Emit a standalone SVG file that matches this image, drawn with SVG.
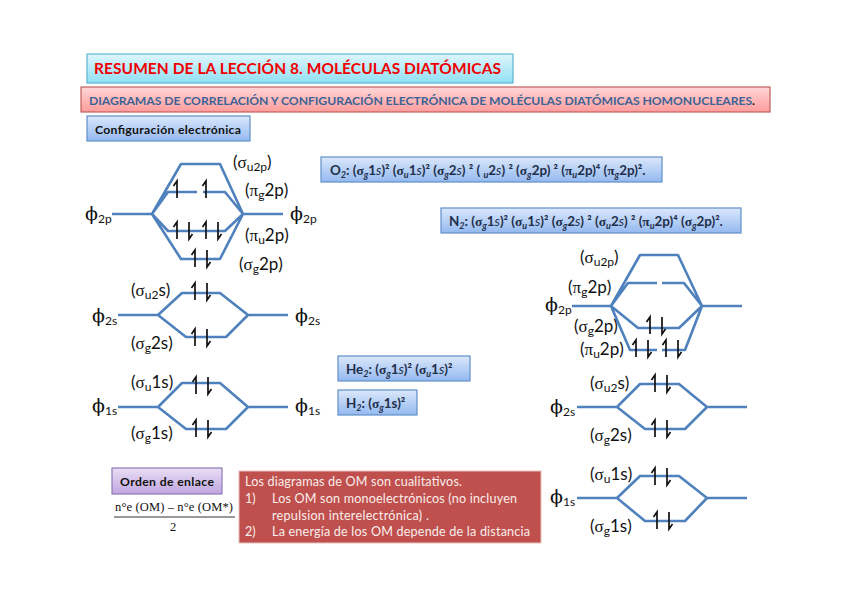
<svg xmlns="http://www.w3.org/2000/svg" width="848" height="599" viewBox="0 0 848 599">
<style>
text{font-family:Lato,"Open Sans","Liberation Sans",sans-serif;white-space:pre}
.box{stroke-width:1.2}
.mo{fill:none;stroke:#4f81bd;stroke-width:2.6;stroke-linejoin:round;stroke-linecap:butt}
.h{fill:none;stroke:#111;stroke-width:1.7}
.lab{font-size:17px;fill:#111}
.lab .g,.phi .g,.cfg .g{font-family:"Liberation Serif","DejaVu Serif",serif}
.sub{font-size:12px}
.phi{font-size:19px;fill:#111;font-family:"DejaVu Serif",serif}
.phi .sub{font-size:12px;font-family:Lato,sans-serif}
.cfg{font-size:13.4px;font-weight:700;fill:#1f2f4a}
.cfg .sub{font-size:9px;font-style:italic}
.cfg .i{font-style:italic;font-weight:400}
.bt{font-size:12.6px;fill:#f8eeec}
.f{font-family:"Liberation Serif",serif;fill:#111}
</style>
<defs>
<linearGradient id="gAqua" x1="0" y1="0" x2="0" y2="1"><stop offset="0" stop-color="#dff6fc"/><stop offset="1" stop-color="#8fe0f4"/></linearGradient>
<linearGradient id="gPink" x1="0" y1="0" x2="0" y2="1"><stop offset="0" stop-color="#ffd6d6"/><stop offset="1" stop-color="#ff9c9c"/></linearGradient>
<linearGradient id="gBlue" x1="0" y1="0" x2="0" y2="1"><stop offset="0" stop-color="#dbe8fb"/><stop offset="1" stop-color="#94b9f0"/></linearGradient>
<linearGradient id="gPurp" x1="0" y1="0" x2="0" y2="1"><stop offset="0" stop-color="#e9def5"/><stop offset="1" stop-color="#bfa6e0"/></linearGradient>
<path id="up" class="h" d="M0 17V0L-3.5 5"/>
<path id="dn" class="h" d="M0 0V17L3.5 12"/>
<g id="pair"><use href="#up"/><use href="#dn" x="12"/></g>
</defs>

<g id="titulo"><rect class="box" x="87" y="54" width="426" height="29" fill="url(#gAqua)" stroke="#5bb5d0"/>
<text x="94" y="74" font-size="15.5" font-weight="700" fill="#f00000" textLength="407">RESUMEN DE LA LECCIÓN 8. MOLÉCULAS DIATÓMICAS</text></g>
<g id="subtitulo"><rect class="box" x="81" y="87" width="689" height="25" fill="url(#gPink)" stroke="#c0605c"/>
<text x="89" y="105" font-size="12.2" font-weight="700" fill="#3d6396" textLength="666">DIAGRAMAS DE CORRELACIÓN Y CONFIGURACIÓN ELECTRÓNICA DE MOLÉCULAS DIATÓMICAS HOMONUCLEARES<tspan fill="#111">.</tspan></text></g>
<g id="config"><rect class="box" x="87" y="116" width="163" height="25" fill="url(#gBlue)" stroke="#5f8fc9"/>
<text x="95" y="134" font-size="12.2" font-weight="700" fill="#111" textLength="146">Configuración electrónica</text></g>

<g id="o2"><rect class="box" x="321" y="157" width="341" height="25" fill="url(#gBlue)" stroke="#5f8fc9"/>
<text class="cfg" x="330" y="175">O<tspan class="sub" dy="3">2</tspan><tspan dy="-3">: (</tspan><tspan class="g">σ</tspan><tspan class="sub" dy="3">g</tspan><tspan dy="-3">1</tspan><tspan class="i">s</tspan>)² (<tspan class="g">σ</tspan><tspan class="sub" dy="3">u</tspan><tspan dy="-3">1</tspan><tspan class="i">s</tspan>)² (<tspan class="g">σ</tspan><tspan class="sub" dy="3">g</tspan><tspan dy="-3">2</tspan><tspan class="i">s</tspan>) ² ( <tspan class="sub" dy="3">u</tspan><tspan dy="-3">2</tspan><tspan class="i">s</tspan>) ² (<tspan class="g">σ</tspan><tspan class="sub" dy="3">g</tspan><tspan dy="-3">2p) ² (</tspan><tspan class="g">π</tspan><tspan class="sub" dy="3">u</tspan><tspan dy="-3">2p)⁴ (</tspan><tspan class="g">π</tspan><tspan class="sub" dy="3">g</tspan><tspan dy="-3">2p)².</tspan></text></g>
<g id="n2"><rect class="box" x="441" y="208" width="300" height="25" fill="url(#gBlue)" stroke="#5f8fc9"/>
<text class="cfg" x="449" y="226">N<tspan class="sub" dy="3">2</tspan><tspan dy="-3">: (</tspan><tspan class="g">σ</tspan><tspan class="sub" dy="3">g</tspan><tspan dy="-3">1</tspan><tspan class="i">s</tspan>)² (<tspan class="g">σ</tspan><tspan class="sub" dy="3">u</tspan><tspan dy="-3">1</tspan><tspan class="i">s</tspan>)² (<tspan class="g">σ</tspan><tspan class="sub" dy="3">g</tspan><tspan dy="-3">2</tspan><tspan class="i">s</tspan>) ² (<tspan class="g">σ</tspan><tspan class="sub" dy="3">u</tspan><tspan dy="-3">2</tspan><tspan class="i">s</tspan>) ² (<tspan class="g">π</tspan><tspan class="sub" dy="3">u</tspan><tspan dy="-3">2p)⁴ (</tspan><tspan class="g">σ</tspan><tspan class="sub" dy="3">g</tspan><tspan dy="-3">2p)².</tspan></text></g>
<g id="he2"><rect class="box" x="338" y="356" width="132" height="25" fill="url(#gBlue)" stroke="#5f8fc9"/>
<text class="cfg" x="346" y="374">He<tspan class="sub" dy="3">2</tspan><tspan dy="-3">: (</tspan><tspan class="g">σ</tspan><tspan class="sub" dy="3">g</tspan><tspan dy="-3">1</tspan><tspan class="i">s</tspan>)² (<tspan class="g">σ</tspan><tspan class="sub" dy="3">u</tspan><tspan dy="-3">1</tspan><tspan class="i">s</tspan>)²</text></g>
<g id="h2"><rect class="box" x="338" y="390" width="79" height="25" fill="url(#gBlue)" stroke="#5f8fc9"/>
<text class="cfg" x="346" y="408">H<tspan class="sub" dy="3">2</tspan><tspan dy="-3">: (</tspan><tspan class="g">σ</tspan><tspan class="sub" dy="3">g</tspan><tspan dy="-3">1s)²</tspan></text></g>

<g id="orden"><rect class="box" x="112" y="468" width="110" height="26" fill="url(#gPurp)" stroke="#9078b8"/>
<text x="120" y="486" font-size="12.2" font-weight="700" fill="#111" textLength="94">Orden de enlace</text></g>
<g id="formula"><text class="f" x="115" y="511" font-size="12.5" style="font-family:'Liberation Serif',serif" textLength="118">n°e (OM) – n°e (OM*)</text>
<path d="M114 517H235" stroke="#333" stroke-width="1"/>
<text class="f" x="170" y="531" font-size="12.5" style="font-family:'Liberation Serif',serif">2</text></g>
<g id="notas"><rect x="239" y="471" width="302" height="72" fill="#c0504d" stroke="#e8c0be"/>
<text class="bt" x="245" y="486" textLength="217">Los diagramas de OM son cualitativos.</text>
<text class="bt" x="245" y="503">1)</text><text class="bt" x="272" y="503" textLength="245">Los OM son monoelectrónicos (no incluyen</text>
<text class="bt" x="272" y="520" textLength="157">repulsion interelectrónica) .</text>
<text class="bt" x="245" y="536">2)</text><text class="bt" x="272" y="536" textLength="258">La energía de los OM depende de la distancia</text></g>

<g id="conectores">
<path class="mo" d="M112 214H152M243 214H283M152 214L181 164H220L243 214M152 214L168 192H197M203 192H225L243 214M152 214L168 231H225L243 214M152 214L181 259H220L243 214"/>
<path class="mo" d="M118 315H158L182 293H220L248 315H288M158 315L186 337H226L248 315"/>
<path class="mo" d="M118 407H158L182 383H220L248 407H288M158 407L186 429H226L248 407"/>
<path class="mo" d="M572 306H611M702 306H742M611 306L640 255H678L702 306M611 306L628 283H657M662 283H684L702 306M611 306L638 328H679L702 306M611 306L630 350H657M662 350H685L702 306"/>
<path class="mo" d="M577 407H617L640 384H679L707 407H747M617 407L645 429H685L707 407"/>
<path class="mo" d="M577 498H617L640 476H679L707 498H747M617 498L645 521H685L707 498"/>
</g>

<g id="electrones">
<use href="#up" x="177" y="181"/><use href="#up" x="206" y="181"/>
<use href="#pair" x="177" y="222"/><use href="#pair" x="206" y="222"/><use href="#pair" x="195" y="250"/>
<use href="#pair" x="195" y="283"/><use href="#pair" x="195" y="329"/><use href="#pair" x="196" y="377"/><use href="#pair" x="196" y="420"/>
<use href="#pair" x="650" y="317"/><use href="#pair" x="636" y="340"/><use href="#pair" x="666" y="340"/>
<use href="#pair" x="655" y="375"/><use href="#pair" x="655" y="420"/><use href="#pair" x="655" y="468"/><use href="#pair" x="657" y="512"/>
</g>

<g id="etiquetas-o2">
<text class="lab" x="233" y="168">(<tspan class="g">σ</tspan><tspan class="sub" dy="3">u2p</tspan><tspan dy="-3">)</tspan></text>
<text class="lab" x="245" y="196">(<tspan class="g">π</tspan><tspan class="sub" dy="3">g</tspan><tspan dy="-3">2p)</tspan></text>
<text class="lab" x="245" y="241">(<tspan class="g">π</tspan><tspan class="sub" dy="3">u</tspan><tspan dy="-3">2p)</tspan></text>
<text class="lab" x="239" y="270">(<tspan class="g">σ</tspan><tspan class="sub" dy="3">g</tspan><tspan dy="-3">2p)</tspan></text>
<text class="lab" x="131" y="296">(<tspan class="g">σ</tspan><tspan class="sub" dy="3">u2</tspan><tspan dy="-3">s)</tspan></text>
<text class="lab" x="131" y="349">(<tspan class="g">σ</tspan><tspan class="sub" dy="3">g</tspan><tspan dy="-3">2s)</tspan></text>
<text class="lab" x="131" y="388">(<tspan class="g">σ</tspan><tspan class="sub" dy="3">u</tspan><tspan dy="-3">1s)</tspan></text>
<text class="lab" x="131" y="439">(<tspan class="g">σ</tspan><tspan class="sub" dy="3">g</tspan><tspan dy="-3">1s)</tspan></text>
<text class="phi" x="85" y="220">ϕ<tspan class="sub" dy="3">2p</tspan></text>
<text class="phi" x="290" y="220">ϕ<tspan class="sub" dy="3">2p</tspan></text>
<text class="phi" x="92" y="322">ϕ<tspan class="sub" dy="3">2s</tspan></text>
<text class="phi" x="295" y="322">ϕ<tspan class="sub" dy="3">2s</tspan></text>
<text class="phi" x="92" y="412">ϕ<tspan class="sub" dy="3">1s</tspan></text>
<text class="phi" x="295" y="412">ϕ<tspan class="sub" dy="3">1s</tspan></text>
</g>
<g id="etiquetas-n2">
<text class="lab" x="580" y="263">(<tspan class="g">σ</tspan><tspan class="sub" dy="3">u2p</tspan><tspan dy="-3">)</tspan></text>
<text class="lab" x="568" y="293">(<tspan class="g">π</tspan><tspan class="sub" dy="3">g</tspan><tspan dy="-3">2p)</tspan></text>
<text class="lab" x="574" y="332">(<tspan class="g">σ</tspan><tspan class="sub" dy="3">g</tspan><tspan dy="-3">2p)</tspan></text>
<text class="lab" x="580" y="355">(<tspan class="g">π</tspan><tspan class="sub" dy="3">u</tspan><tspan dy="-3">2p)</tspan></text>
<text class="lab" x="590" y="389">(<tspan class="g">σ</tspan><tspan class="sub" dy="3">u2</tspan><tspan dy="-3">s)</tspan></text>
<text class="lab" x="590" y="441">(<tspan class="g">σ</tspan><tspan class="sub" dy="3">g</tspan><tspan dy="-3">2s)</tspan></text>
<text class="lab" x="590" y="480">(<tspan class="g">σ</tspan><tspan class="sub" dy="3">u</tspan><tspan dy="-3">1s)</tspan></text>
<text class="lab" x="590" y="532">(<tspan class="g">σ</tspan><tspan class="sub" dy="3">g</tspan><tspan dy="-3">1s)</tspan></text>
<text class="phi" x="545" y="311">ϕ<tspan class="sub" dy="3">2p</tspan></text>
<text class="phi" x="550" y="413">ϕ<tspan class="sub" dy="3">2s</tspan></text>
<text class="phi" x="550" y="503">ϕ<tspan class="sub" dy="3">1s</tspan></text>
</g>
</svg>
